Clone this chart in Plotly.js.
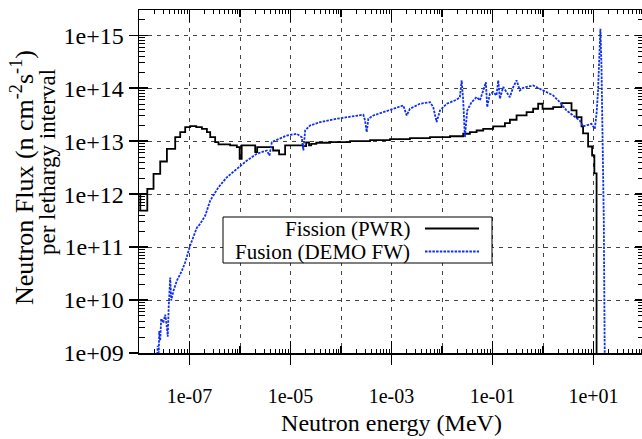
<!DOCTYPE html>
<html>
<head>
<meta charset="utf-8">
<script src="https://cdn.plot.ly/plotly-3.0.1.min.js"></script>
<style>
html,body{margin:0;padding:0;overflow:hidden;background:#fff;}
#chart{width:646px;height:439px;}
</style>
</head>
<body>
<div id="chart"></div>
<script>
// ---- data ----
const fissionEnergy = [5e-9, 1.06e-8, 1.46e-8, 1.94e-8, 2.63e-8, 3.57e-8, 5.21e-8, 6.55e-8, 8.22e-8, 1.03e-7,
  1.36e-7, 1.76e-7, 2.21e-7, 2.57e-7, 3.22e-7, 3.75e-7, 6.38e-7, 8.67e-7, 9.84e-7, 1.08e-6,
  2.0e-6, 2.19e-6, 4.53e-6, 5.94e-6, 7.82e-6, 1.78e-5, 2.04e-5, 2.33e-5, 2.57e-5, 3.24e-5,
  6.07e-5, 1.51e-4, 3.76e-4, 9.33e-4, 2.32e-3, 5.78e-3, 1.44e-2,
  2.63e-2, 3.57e-2, 4.84e-2, 6.55e-2, 0.103, 0.176, 0.221, 0.30, 0.473, 0.638, 0.802, 0.98,
  1.59, 2.33, 3.67, 4.61, 5.79, 6.22, 7.82, 9.38, 10.4, 11.5, 20];
const fissionFlux = [1.0e12, 4.9e11, 1.26e12, 2.42e12, 4.13e12, 7.18e12, 1.19e13, 1.48e13, 1.84e13, 1.92e13,
  1.85e13, 1.71e13, 1.48e13, 1.19e13, 9.57e12, 8.67e12, 8.3e12, 7.71e12, 4.65e12, 8.3e12,
  6.2e12, 7.71e12, 6.67e12, 5.61e12, 8.3e12, 8.05e12, 9.44e12, 8.3e12, 8.93e12, 9.33e12,
  9.62e12, 1.0e13, 1.05e13, 1.09e13, 1.14e13, 1.19e13, 1.24e13,
  1.38e13, 1.48e13, 1.59e13, 1.71e13, 1.9e13, 2.19e13, 2.54e13, 3.06e13, 3.53e13, 4.1e13, 5.09e13, 4.1e13,
  4.39e13, 5.23e13, 3.8e13, 2.85e13, 1.9e13, 1.4e13, 7.94e12, 5.37e12, 2.46e12, 1e6, 1e6];

const fusionEnergy = [2.24e-8, 2.35e-8, 2.46e-8, 2.52e-8, 2.63e-8, 2.75e-8, 3.02e-8, 3.31e-8, 3.54e-8, 3.71e-8,
  3.88e-8, 4.15e-8, 4.35e-8, 4.82e-8, 5.63e-8, 7.08e-8, 8.22e-8, 9.55e-8, 1.03e-7, 1.4e-7,
  1.63e-7, 2.05e-7, 2.57e-7, 3.75e-7, 5.5e-7, 8.67e-7, 1.37e-6, 2.15e-6, 3.4e-6, 3.83e-6,
  4.27e-6, 5.36e-6, 8.45e-6, 1.33e-5, 1.67e-5, 1.8e-5, 1.95e-5, 2.44e-5, 3.86e-5, 8.24e-5,
  1.75e-4, 2.77e-4, 2.99e-4, 3.23e-4, 3.48e-4, 4.37e-4, 6.89e-4, 1.09e-3, 1.71e-3, 2.0e-3,
  2.32e-3, 3.66e-3, 5.78e-3, 6.71e-3, 7.83e-3, 9.12e-3, 1.24e-2, 1.95e-2, 2.26e-2, 2.45e-2,
  2.63e-2, 2.84e-2, 3.16e-2, 3.86e-2, 4.84e-2, 5.64e-2, 6.55e-2, 7.4e-2, 7.85e-2, 8.89e-2,
  0.103, 0.12, 0.13, 0.14, 0.163, 0.19, 0.221, 0.257, 0.30, 0.348,
  0.405, 0.638, 0.867, 1.175, 1.59, 2.15, 2.92, 3.95, 5.36, 6.22,
  7.26, 9.12, 10.6, 11.5, 12.3, 13.0, 13.7, 14.4, 15.1, 16.0, 16.7];
const fusionFlux = [5.8e8, 1.37e9, 1.01e9, 2.6e9, 1.7e9, 4.45e9, 3.74e9, 5.3e9, 3.28e9, 2.03e9,
  7.8e9, 2.65e10, 9.8e9, 1.5e10, 2.33e10, 3.6e10, 5.17e10, 8.6e10, 1.07e11, 2.33e11,
  2.75e11, 3.94e11, 7.57e11, 1.35e12, 2.08e12, 3.0e12, 4.3e12, 5.78e12, 6.67e12, 5.37e12,
  9.57e12, 1.06e13, 1.28e13, 1.38e13, 1.19e13, 6.67e12, 1.59e13, 1.98e13, 2.29e13, 2.65e13,
  2.93e13, 3.16e13, 2.46e13, 1.48e13, 2.65e13, 3.06e13, 3.53e13, 4.1e13, 4.73e13, 3.06e13,
  4.1e13, 5.09e13, 5.46e13, 4.39e13, 2.29e13, 3.8e13, 5.09e13, 6.07e13, 6.79e13, 1.41e14,
  5.88e13, 1.19e13, 3.8e13, 5.46e13, 6.79e13, 5.88e13, 9.08e13, 1.3e14, 4.39e13, 7.87e13,
  8.43e13, 7.31e13, 1.41e14, 6.34e13, 1.05e14, 8.43e13, 6.79e13, 1.05e14, 1.41e14, 9.08e13,
  1.02e14, 1.13e14, 9.79e13, 8.43e13, 7.31e13, 5.46e13, 3.8e13, 3.06e13, 2.46e13, 1.9e13,
  1.98e13, 2.13e13, 1.71e13, 3.3e13, 9.08e13, 4.17e14, 1.33e15, 2.5e14, 1.03e13, 3.17e11, 7e8];

const seriesNames = ['Fission (PWR)', 'Fusion (DEMO FW)'];
const xTickVals = [1e-7, 1e-5, 1e-3, 1e-1, 1e1];
const xTickText = ['1e-07', '1e-05', '1e-03', '1e-01', '1e+01'];
const yTickVals = [1e9, 1e10, 1e11, 1e12, 1e13, 1e14, 1e15];
const yTickText = ['1e+09', '1e+10', '1e+11', '1e+12', '1e+13', '1e+14', '1e+15'];
const xTitle = 'Neutron energy (MeV)';
const yTitleLine1 = 'Neutron Flux (n cm<sup>-2</sup>s<sup>-1</sup>)';
const yTitleLine2 = 'per lethargy interval';

// ---- axis tick helpers ----
const xDecades = [], xMinor = [], yDecades = [], yMinor = [];
for (let p = -8; p <= 2; p++) { xDecades.push(Math.pow(10, p)); for (let d = 2; d <= 9; d++) if (p < 2) xMinor.push(d * Math.pow(10, p)); }
for (let p = 9; p <= 15; p++) { yDecades.push(Math.pow(10, p)); for (let d = 2; d <= 9; d++) { const v = d * Math.pow(10, p); if (v <= 3.01e15) yMinor.push(v); } }

const FONT = 'Liberation Serif';
const XR = [-8, 2];
const YR = [9, Math.log10(3e15)];
const GRID = '#444';
const GDASH = '4px,5px';
const BLUE = 'rgb(16,48,240)';

const traces = [
  {x: fissionEnergy, y: fissionFlux, name: seriesNames[0], type: 'scatter', mode: 'lines',
   line: {color: '#000', width: 1.8, shape: 'hv'}, showlegend: false},
  {x: fusionEnergy, y: fusionFlux, name: seriesNames[1], type: 'scatter', mode: 'lines',
   line: {color: BLUE, width: 1.8, dash: '2.5px,1.2px'}, showlegend: false},
  {x: [], y: [], xaxis: 'x2', yaxis: 'y2', type: 'scatter', showlegend: false, hoverinfo: 'skip'},
  {x: [], y: [], xaxis: 'x3', yaxis: 'y2', type: 'scatter', showlegend: false, hoverinfo: 'skip'}
];

const L = 139, PW = 505, T = 10, PH = 343;
function px(xp) { return (xp - L) / PW; }
function py(yp) { return (T + PH - yp) / PH; }

const layout = {
  width: 646, height: 439,
  margin: {l: L, r: 2, t: T, b: 86},
  paper_bgcolor: '#fff', plot_bgcolor: '#fff',
  font: {family: FONT, color: '#000'},
  showlegend: false,
  xaxis: {
    type: 'log', range: XR, autorange: false, tickmode: 'array', tickvals: xTickVals, ticktext: xTickText,
    ticks: 'outside', ticklen: 10, tickwidth: 1.5, tickcolor: '#000',
    showline: true, linecolor: '#000', linewidth: 1.5, mirror: true, zeroline: false,
    showgrid: true, gridcolor: GRID, gridwidth: 1, griddash: GDASH,
    minor: {tickmode: 'array', tickvals: xDecades, ticks: '', showgrid: true, gridcolor: GRID, gridwidth: 1, griddash: GDASH},
    tickfont: {family: FONT, size: 20, color: '#000'}, ticklabelstandoff: 14,
    title: {text: xTitle, font: {family: FONT, size: 24, color: '#000'}, standoff: 8},
    automargin: false
  },
  xaxis2: {
    type: 'log', range: XR, autorange: false, overlaying: 'x', anchor: 'y2', side: 'bottom',
    tickmode: 'array', tickvals: xDecades, ticks: 'inside', ticklen: 7, tickwidth: 1.2, tickcolor: '#000',
    showline: true, linecolor: '#000', linewidth: 1.5, mirror: 'ticks', showticklabels: false, showgrid: false, zeroline: false,
    minor: {tickmode: 'array', tickvals: xMinor, ticks: 'inside', ticklen: 4, tickwidth: 1, tickcolor: '#000', showgrid: false}
  },
  xaxis3: {
    type: 'log', range: XR, autorange: false, overlaying: 'x', anchor: 'y2', side: 'bottom',
    tickmode: 'array', tickvals: xTickVals, ticks: 'inside', ticklen: 12, tickwidth: 1.5, tickcolor: '#000',
    showline: true, linecolor: '#000', linewidth: 1.5, mirror: 'ticks', showticklabels: false, showgrid: false, zeroline: false
  },
  yaxis: {
    type: 'log', range: YR, autorange: false, tickmode: 'array', tickvals: yTickVals, ticktext: yTickText,
    ticks: 'outside', ticklen: 9, tickwidth: 1.5, tickcolor: '#000',
    showline: true, linecolor: '#000', linewidth: 1.5, mirror: true, zeroline: false,
    showgrid: true, gridcolor: GRID, gridwidth: 1, griddash: GDASH,
    tickfont: {family: FONT, size: 24, color: '#000'},
    automargin: false
  },
  yaxis2: {
    type: 'log', range: YR, autorange: false, overlaying: 'y', anchor: 'x2', side: 'left',
    tickmode: 'array', tickvals: yDecades, ticks: 'inside', ticklen: 9, tickwidth: 1.5, tickcolor: '#000',
    showline: true, linecolor: '#000', linewidth: 1.5, mirror: 'ticks', showticklabels: false, showgrid: false, zeroline: false,
    minor: {tickmode: 'array', tickvals: yMinor, ticks: 'inside', ticklen: 6, tickwidth: 1, tickcolor: '#000', showgrid: false}
  },
  shapes: [
    {type: 'rect', xref: 'paper', yref: 'paper', x0: px(223), x1: px(492), y0: py(263), y1: py(217),
     line: {color: '#000', width: 1}, fillcolor: '#fff', layer: 'above'},
    {type: 'line', xref: 'paper', yref: 'paper', x0: px(425), x1: px(479), y0: py(228.5), y1: py(228.5),
     line: {color: '#000', width: 1.8}, layer: 'above'},
    {type: 'line', xref: 'paper', yref: 'paper', x0: px(425), x1: px(479), y0: py(251.5), y1: py(251.5),
     line: {color: BLUE, width: 1.8, dash: '2.5px,1.2px'}, layer: 'above'}
  ],
  annotations: [
    {xref: 'paper', yref: 'paper', x: px(412), y: py(229), xanchor: 'right', yanchor: 'middle', showarrow: false,
     text: seriesNames[0], font: {family: FONT, size: 21, color: '#000'}},
    {xref: 'paper', yref: 'paper', x: px(412), y: py(252), xanchor: 'right', yanchor: 'middle', showarrow: false,
     text: seriesNames[1], font: {family: FONT, size: 21, color: '#000'}},
    {xref: 'paper', yref: 'paper', x: px(22), y: py(178), xanchor: 'center', yanchor: 'middle', showarrow: false,
     textangle: -90, text: yTitleLine1, font: {family: FONT, size: 26, color: '#000'}},
    {xref: 'paper', yref: 'paper', x: px(47), y: py(162), xanchor: 'center', yanchor: 'middle', showarrow: false,
     textangle: -90, text: yTitleLine2, font: {family: FONT, size: 23, color: '#000'}}
  ]
};

Plotly.newPlot('chart', traces, layout, {displayModeBar: false, staticPlot: true});
</script>
</body>
</html>
